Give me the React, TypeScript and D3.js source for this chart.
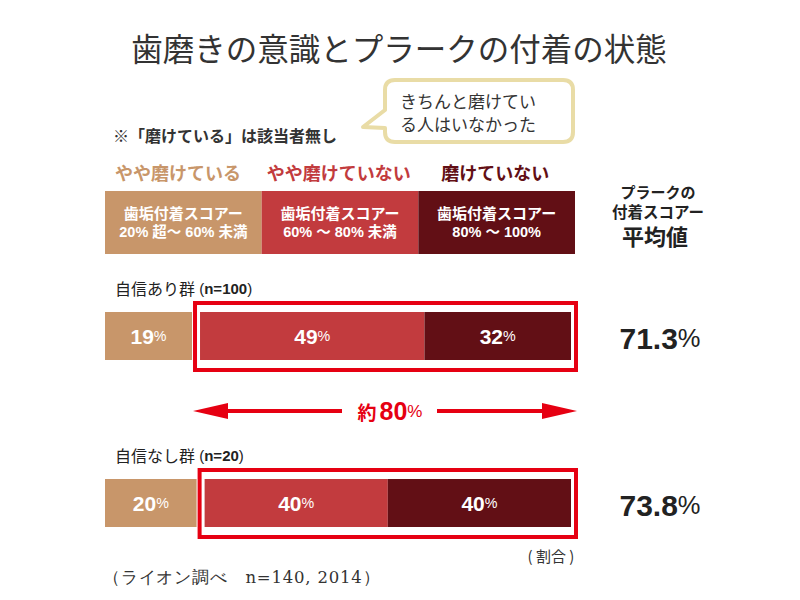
import * as d3 from "d3";

const categories = ["やや磨けている", "やや磨けていない", "磨けていない"];
const categoryHead = "歯垢付着スコアー";
const rangeLabels = ["20% 超〜 60% 未満", "60% 〜 80% 未満", "80% 〜 100%"];
const groups = ["自信あり群", "自信なし群"];
const groupN = [100, 20];
const brushedSomewhat = [19, 20];
const somewhatNot = [49, 40];
const notBrushed = [32, 40];
const avgScore = [71.3, 73.8];
const colors = ["#c8966a", "#c23b3e", "#620f15"];

const JP = "'Noto Sans CJK JP', sans-serif";
const NUM = "'Liberation Sans', Arial, 'Noto Sans CJK JP', sans-serif";
const RED = "#e60012";
const INK = "#333";

// number with a smaller percent sign
function Pct({ value, size, fill, x, y, pctScale = 0.68 }: { value: string; size: number; fill: string; x: number; y: number; pctScale?: number }) {
  return (
    <text x={x} y={y} textAnchor="middle" dominantBaseline="central" fill={fill} fontFamily={NUM} fontWeight="bold" fontSize={size}>
      {value}
      <tspan fontSize={size * pctScale} fontWeight="normal">%</tspan>
    </text>
  );
}

export default function App() {
  const headX = d3.scaleBand<string>().domain(categories).range([105, 575]);
  const rowTop = d3.scalePoint<string>().domain(groups).range([312, 479]);
  const w = d3.scaleLinear().domain([0, 100]).range([0, 458]);
  const barH = 48;
  const color = d3.scaleOrdinal<string, string>().domain(categories).range(colors);
  const labelShift = [10, 5, 23];

  return (
    <svg width={800} height={600} style={{ position: "absolute", left: 0, top: 0, background: "#fff" }}>
      <text x={399} y={47} textAnchor="middle" dominantBaseline="central" fontFamily={JP} fontWeight={400} fontSize={31.5} fill={INK}>
        歯磨きの意識とプラークの付着の状態
      </text>

      {/* callout */}
      <path
        d="M395,80 H563 Q573,80 573,90 V132 Q573,142 563,142 H395 Q385,142 385,132 V128 L363,127 L385,110 V90 Q385,80 395,80 Z"
        fill="#fff"
        stroke="#e9dca6"
        strokeWidth={4}
        strokeLinejoin="round"
      />
      <text x={400} y={100} dominantBaseline="central" fontFamily={JP} fontSize={17} fill={INK}>きちんと磨けてい</text>
      <text x={400} y={123} dominantBaseline="central" fontFamily={JP} fontSize={17} fill={INK}>る人はいなかった</text>

      <text x={113} y={135} dominantBaseline="central" fontFamily={JP} fontWeight="bold" fontSize={16} fill={INK}>
        ※「磨けている」は該当者無し
      </text>

      {/* legend header */}
      {categories.map((c, i) => (
        <g key={c}>
          <text x={(headX(c) ?? 0) + labelShift[i]} y={172} dominantBaseline="central" fontFamily={JP} fontWeight="bold" fontSize={18} fill={color(c)}>
            {c}
          </text>
          <rect x={headX(c)} y={191} width={headX.bandwidth()} height={63} fill={color(c)} />
          <text x={(headX(c) ?? 0) + headX.bandwidth() / 2} y={212} textAnchor="middle" dominantBaseline="central" fontFamily={JP} fontWeight="bold" fontSize={15} fill="#fff">
            {categoryHead}
          </text>
          <text x={(headX(c) ?? 0) + headX.bandwidth() / 2} y={232} textAnchor="middle" dominantBaseline="central" fontFamily={NUM} fontWeight="bold" fontSize={14.5} fill="#fff">
            {rangeLabels[i]}
          </text>
        </g>
      ))}

      <text x={658} y={191} textAnchor="middle" dominantBaseline="central" fontFamily={JP} fontWeight="bold" fontSize={15} fill="#222">プラークの</text>
      <text x={658} y={211} textAnchor="middle" dominantBaseline="central" fontFamily={JP} fontWeight="bold" fontSize={15.5} fill="#222">付着スコアー</text>
      <text x={655} y={235} textAnchor="middle" dominantBaseline="central" fontFamily={JP} fontWeight="bold" fontSize={22} fill="#222">平均値</text>

      {/* rows */}
      {groups.map((g, i) => {
        const y = rowTop(g) ?? 0;
        const x0 = 105;
        const x1 = x0 + w(brushedSomewhat[i]);
        const inner = x1 + 8;
        const x2 = inner + w(somewhatNot[i]);
        const x3 = x2 + w(notBrushed[i]);
        return (
          <g key={g}>
            <text x={115} y={y - 24} dominantBaseline="central" fontFamily={JP} fontSize={16} fill="#222">
              {g}
              <tspan fontFamily={NUM} fontSize={15}> (</tspan>
              <tspan fontFamily={NUM} fontWeight="bold" fontSize={15}>n={groupN[i]}</tspan>
              <tspan fontFamily={NUM} fontSize={15}>)</tspan>
            </text>
            <rect x={x0} y={y} width={x1 - x0} height={barH} fill={colors[0]} />
            <rect x={inner} y={y} width={x2 - inner} height={barH} fill={colors[1]} />
            <rect x={x2} y={y} width={x3 - x2} height={barH} fill={colors[2]} />
            <rect x={inner - 5} y={y - 9} width={x3 - inner + 10} height={barH + 19} fill="none" stroke={RED} strokeWidth={4} />
            <Pct value={String(brushedSomewhat[i])} size={21} fill="#fff" x={(x0 + x1) / 2} y={y + barH / 2} />
            <Pct value={String(somewhatNot[i])} size={21} fill="#fff" x={(inner + x2) / 2} y={y + barH / 2} />
            <Pct value={String(notBrushed[i])} size={21} fill="#fff" x={(x2 + x3) / 2} y={y + barH / 2} />
            <Pct value={avgScore[i].toFixed(1)} size={30} pctScale={0.85} fill="#222" x={660} y={y + barH / 2 + 2} />
          </g>
        );
      })}

      {/* arrow */}
      <g fill={RED} stroke="none">
        <rect x={225} y={409} width={117} height={4} />
        <rect x={437} y={409} width={108} height={4} />
        <path d="M193,411 L228,403 L228,419 Z" />
        <path d="M577,411 L542,403 L542,419 Z" />
      </g>
      <text x={390} y={411} textAnchor="middle" dominantBaseline="central" fill={RED} fontWeight="bold">
        <tspan fontFamily={JP} fontSize={19}>約</tspan>
        <tspan fontFamily={NUM} fontSize={25} dx={3}>80</tspan>
        <tspan fontFamily={NUM} fontSize={17} fontWeight="normal">%</tspan>
      </text>

      <text x={551} y={555} textAnchor="middle" dominantBaseline="central" fontFamily={JP} fontSize={15} fill={INK}>(  割合  )</text>
      <text x={103} y={577} dominantBaseline="central" fontFamily="'DejaVu Serif', serif" fontSize={16.5} letterSpacing={0.8} fill={INK}>
        （ライオン調べ　n=140, 2014）
      </text>
    </svg>
  );
}
